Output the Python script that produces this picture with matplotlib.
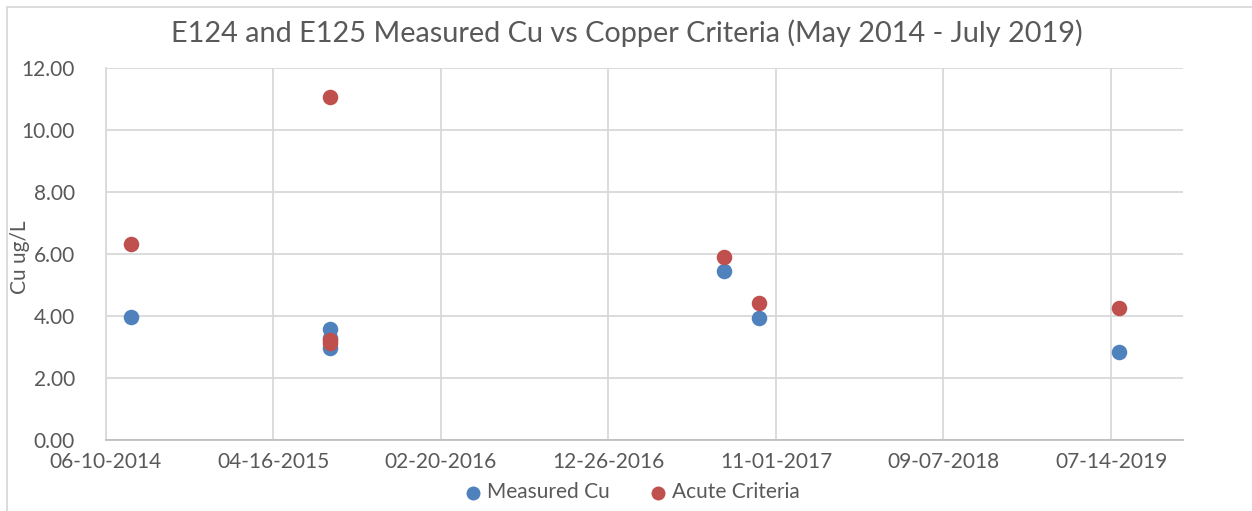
import datetime as dt
import matplotlib
matplotlib.use("Agg")
import matplotlib.pyplot as plt
import matplotlib.dates as mdates
from matplotlib.ticker import FixedLocator, FuncFormatter
from matplotlib.patches import Rectangle

plt.rcParams["font.family"] = ["Lato", "DejaVu Sans"]

# data
measured_dates = ["2014-07-28", "2015-07-30", "2015-07-30", "2015-07-30",
                  "2017-07-28", "2017-10-01", "2019-07-29"]
measured_cu = [3.98, 3.58, 3.28, 2.98, 5.44, 3.93, 2.85]

acute_dates = ["2014-07-28", "2015-07-30", "2015-07-30", "2015-07-30",
               "2017-07-28", "2017-10-01", "2019-07-29"]
acute_criteria = [6.31, 11.07, 3.22, 3.12, 5.90, 4.42, 4.25]

tick_start = "2014-06-10"
tick_step_days = 310
n_ticks = 7

text_col = "#595959"
blue = "#4F81BD"
red = "#C0504D"


def to_num(s):
    return mdates.date2num(dt.datetime.strptime(s, "%Y-%m-%d"))


fig = plt.figure(figsize=(12.52, 5.11), dpi=100)
ax = fig.add_axes([105.5 / 1252, 1 - 440 / 511, (1183 - 105.5) / 1252, (440 - 68) / 511])

ax.scatter([to_num(d) for d in measured_dates], measured_cu, s=125, color=blue,
           label="Measured Cu", zorder=3, linewidths=0)
ax.scatter([to_num(d) for d in acute_dates], acute_criteria, s=125, color=red,
           label="Acute Criteria", zorder=3, linewidths=0)

x0 = to_num(tick_start)
ticks = [x0 + i * tick_step_days for i in range(n_ticks)]
ax.set_xlim(x0, x0 + 1993)
ax.set_ylim(0, 12)
ax.xaxis.set_major_locator(FixedLocator(ticks))
ax.xaxis.set_major_formatter(FuncFormatter(lambda v, p: mdates.num2date(v).strftime("%m-%d-%Y")))
ax.set_yticks([0, 2, 4, 6, 8, 10, 12])
ax.yaxis.set_major_formatter(FuncFormatter(lambda v, p: f"{v:.2f}"))

ax.grid(True, color="#d9d9d9", linewidth=1.3)
ax.set_axisbelow(True)
for side in ["top", "right"]:
    ax.spines[side].set_visible(False)
ax.spines["left"].set_color("#d9d9d9")
ax.spines["left"].set_linewidth(1.3)
ax.spines["bottom"].set_color("#bfbfbf")
ax.spines["bottom"].set_linewidth(1.3)
ax.tick_params(length=0, labelsize=15, colors=text_col, pad=9)
ax.tick_params(axis="y", pad=22)

# y label sits just left of the tick labels
fig.text(20 / 1252, 1 - 257 / 511, "Cu ug/L", rotation=90, ha="center", va="center",
         fontsize=15, color=text_col)
fig.text(627 / 1252, 1 - 33 / 511,
         "E124 and E125 Measured Cu vs Copper Criteria (May 2014 - July 2019)",
         ha="center", va="center", fontsize=20.8, color=text_col)

leg = fig.legend(loc="center", bbox_to_anchor=(626 / 1252, 1 - 492 / 511), ncol=2,
                 frameon=False, fontsize=15, handletextpad=-0.3, columnspacing=1.3,
                 markerscale=0.9, borderaxespad=0)
for t in leg.get_texts():
    t.set_color(text_col)

fig.patches.append(Rectangle((7 / 1252, -0.1), 1.2, 1 - 7 / 511 + 0.1, transform=fig.transFigure,
                             fill=False, edgecolor="#d9d9d9", linewidth=1.3))

fig.savefig("out.png", dpi=100)
